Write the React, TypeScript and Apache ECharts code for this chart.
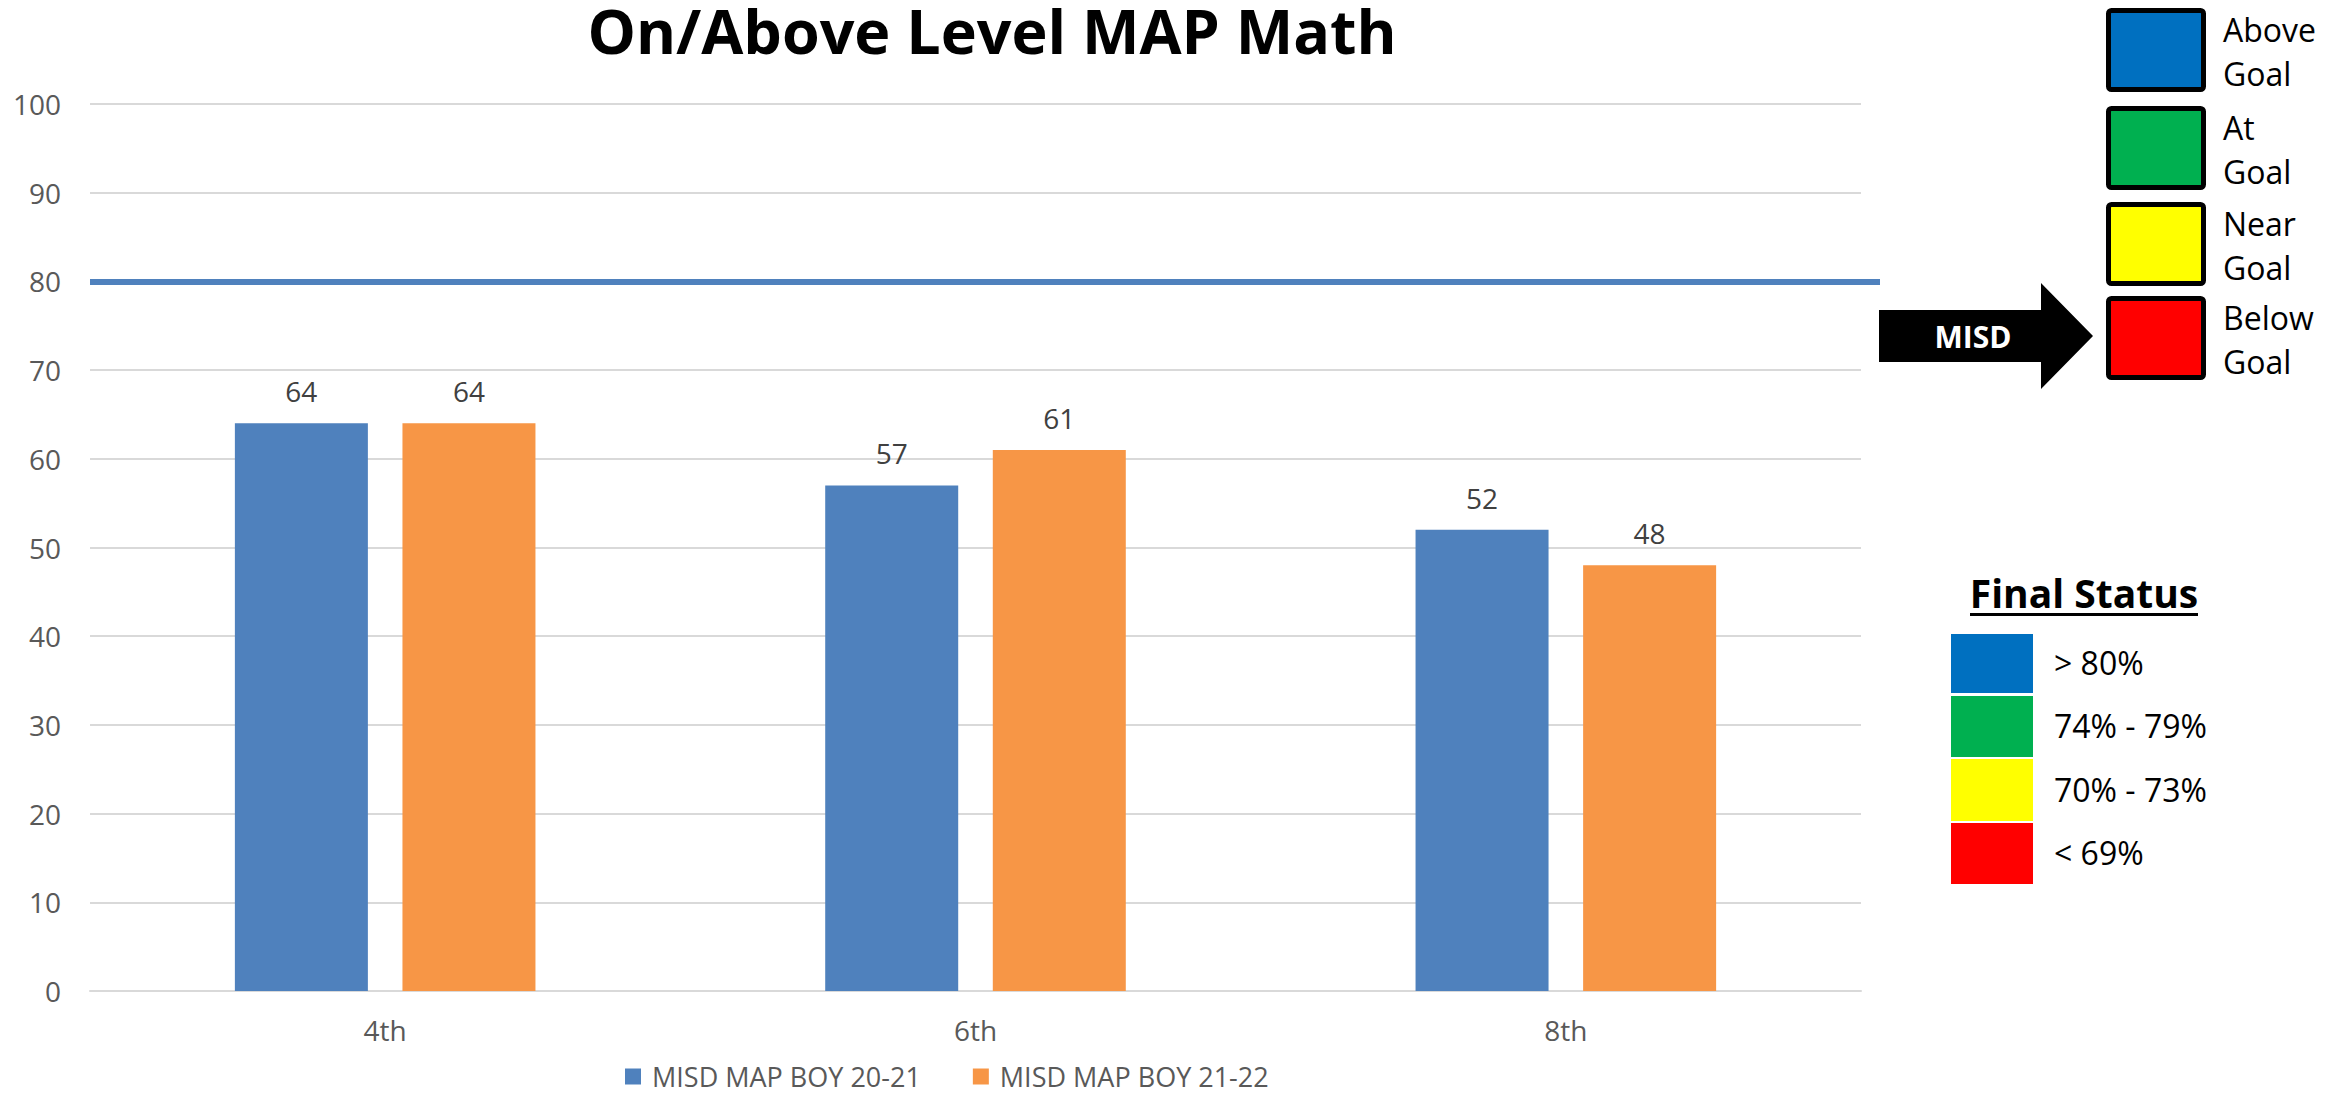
import React, { useEffect, useRef } from "react";
import * as echarts from "echarts";

const categories = ["4th", "6th", "8th"];
const seriesNames = ["MISD MAP BOY 20-21", "MISD MAP BOY 21-22"];
const boy2021 = [64, 57, 52];
const boy2122 = [64, 61, 48];
const goalValue = 80;
const yMin = 0;
const yMax = 100;
const yInterval = 10;

const goalLabels = [
  ["Above", "Goal"],
  ["At", "Goal"],
  ["Near", "Goal"],
  ["Below", "Goal"],
];
const statusLabels = ["> 80%", "74% - 79%", "70% - 73%", "< 69%"];
const statusColors = ["#0070C0", "#00B050", "#FFFF00", "#FF0000"];

const FONT = "'Open Sans', 'Noto Sans', sans-serif";

export default function App() {
  const ref = useRef<HTMLDivElement>(null);

  useEffect(() => {
    document.body.style.margin = "0";
    if (!ref.current) return;
    const chart = echarts.init(ref.current, null, { renderer: "svg" });

    const graphics: any[] = [];
    // Title
    graphics.push({
      type: "text",
      x: 992,
      y: 30,
      style: {
        text: "On/Above Level MAP Math",
        font: `bold 61px ${FONT}`,
        fill: "#000000",
        align: "center",
        verticalAlign: "middle",
      },
    });
    // Goal boxes
    const boxTops = [8, 106, 202, 296];
    boxTops.forEach((t, i) => {
      graphics.push({
        type: "rect",
        shape: { x: 2108.5, y: t + 2.5, width: 95, height: 79, r: 3 },
        style: { fill: statusColors[i], stroke: "#000000", lineWidth: 5 },
      });
      const c = t + 42;
      graphics.push({
        type: "text",
        x: 2223,
        y: c - 21,
        style: { text: goalLabels[i][0], font: `32px ${FONT}`, fill: "#000000", align: "left", verticalAlign: "middle" },
      });
      graphics.push({
        type: "text",
        x: 2223,
        y: c + 23,
        style: { text: goalLabels[i][1], font: `32px ${FONT}`, fill: "#000000", align: "left", verticalAlign: "middle" },
      });
    });
    // Arrow
    graphics.push({
      type: "polygon",
      shape: {
        points: [
          [1879, 310],
          [2041, 310],
          [2041, 283],
          [2093, 336],
          [2041, 389],
          [2041, 362],
          [1879, 362],
        ],
      },
      style: { fill: "#000000" },
    });
    graphics.push({
      type: "text",
      x: 1973,
      y: 336,
      style: { text: "MISD", font: `bold 30px ${FONT}`, fill: "#FFFFFF", align: "center", verticalAlign: "middle" },
    });
    // Final Status
    graphics.push({
      type: "text",
      x: 2084,
      y: 592,
      style: { text: "Final Status", font: `bold 39px ${FONT}`, fill: "#000000", align: "center", verticalAlign: "middle" },
    });
    graphics.push({
      type: "rect",
      shape: { x: 1970, y: 613, width: 228, height: 3 },
      style: { fill: "#000000" },
    });
    const statusRects = [
      [634, 693],
      [696, 757],
      [759, 821],
      [823, 884],
    ];
    statusRects.forEach(([a, b], i) => {
      graphics.push({
        type: "rect",
        shape: { x: 1951, y: a, width: 82, height: b - a },
        style: { fill: statusColors[i] },
      });
      graphics.push({
        type: "text",
        x: 2054,
        y: (a + b) / 2 - 1,
        style: { text: statusLabels[i], font: `32px ${FONT}`, fill: "#000000", align: "left", verticalAlign: "middle" },
      });
    });

    chart.setOption({
      animation: false,
      backgroundColor: "#FFFFFF",
      textStyle: { fontFamily: FONT },
      grid: { left: 90, right: 487, top: 104, bottom: 103, containLabel: false },
      legend: {
        data: seriesNames,
        left: 620,
        top: 1058,
        itemWidth: 16,
        itemHeight: 16,
        itemGap: 52,
        icon: "rect",
        textStyle: { fontSize: 27, color: "#595959", fontFamily: FONT, padding: [0, 0, 0, 6], lineHeight: 27 },
      },
      xAxis: {
        type: "category",
        data: categories,
        axisLine: { show: true, lineStyle: { color: "#D9D9D9", width: 2 } },
        axisTick: { show: false },
        axisLabel: { fontSize: 28, color: "#595959", margin: 25, fontFamily: FONT },
      },
      yAxis: {
        type: "value",
        min: yMin,
        max: yMax,
        interval: yInterval,
        axisLine: { show: false },
        axisTick: { show: false },
        axisLabel: { fontSize: 28, color: "#595959", margin: 29, fontFamily: FONT },
        splitLine: { show: true, lineStyle: { color: "#D9D9D9", width: 2 } },
      },
      series: [
        {
          name: seriesNames[0],
          type: "bar",
          data: boy2021,
          barWidth: 133,
          barGap: "26%",
          itemStyle: { color: "#4F81BD" },
          label: { show: true, position: "top", distance: 18, fontSize: 28, color: "#404040", fontFamily: FONT },
          markLine: {
            silent: true,
            symbol: ["none", "none"],
            label: { show: false },
            lineStyle: { color: "#4F81BD", width: 6, type: "solid" },
            data: [[{ x: 90, yAxis: goalValue }, { x: 1880, yAxis: goalValue }]],
          },
        },
        {
          name: seriesNames[1],
          type: "bar",
          data: boy2122,
          barWidth: 133,
          barGap: "26%",
          itemStyle: { color: "#F79646" },
          label: { show: true, position: "top", distance: 18, fontSize: 28, color: "#404040", fontFamily: FONT },
        },
      ],
      graphic: graphics,
    });

    return () => chart.dispose();
  }, []);

  return <div ref={ref} style={{ position: "absolute", left: 0, top: 0, width: 2348, height: 1094 }} />;
}
